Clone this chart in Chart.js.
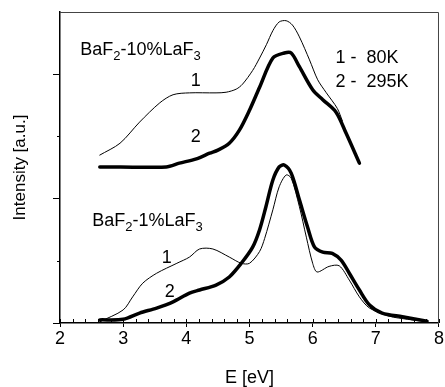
<!DOCTYPE html>
<html><head><meta charset="utf-8">
<script src="https://cdn.jsdelivr.net/npm/chart.js@4"></script>
<style>html,body{margin:0;padding:0;background:#fff}#wrap{width:445px;height:387px;position:relative}</style>
</head><body><div id="wrap"><canvas id="c"></canvas></div>
<script>
// Upper panel: BaF2-10%LaF3
const hiE1 = [2.63, 2.95, 3.26, 3.58, 3.79, 4.05, 4.47, 4.63, 4.79, 4.89, 5.05, 5.16, 5.27, 5.37, 5.47, 5.58, 5.68, 5.79, 5.95, 6.08, 6.21, 6.39, 6.47];
const hiI1 = [2.70, 2.89, 3.23, 3.54, 3.67, 3.70, 3.70, 3.71, 3.76, 3.84, 4.06, 4.26, 4.48, 4.70, 4.84, 4.86, 4.79, 4.60, 4.23, 3.91, 3.71, 3.45, 3.25];
const hiE2 = [2.63, 3.68, 3.89, 4.16, 4.37, 4.50, 4.68, 4.84, 5.00, 5.16, 5.37, 5.55, 5.66, 5.79, 6.00, 6.16, 6.37, 6.53, 6.74];
const hiI2 = [2.51, 2.51, 2.57, 2.64, 2.73, 2.78, 2.89, 3.10, 3.42, 3.79, 4.26, 4.34, 4.34, 4.12, 3.75, 3.59, 3.39, 3.05, 2.57];
// Lower panel: BaF2-1%LaF3
const loE1 = [2.63, 3.00, 3.15, 3.31, 3.53, 3.85, 4.05, 4.21, 4.42, 4.68, 4.87, 5.00, 5.16, 5.24, 5.37, 5.47, 5.58, 5.66, 5.79, 5.90, 6.00, 6.07, 6.26, 6.42, 6.58, 6.74, 6.90, 7.21, 7.50, 7.81];
const loI1 = [0.02, 0.21, 0.42, 0.64, 0.80, 0.96, 1.06, 1.19, 1.19, 1.06, 0.96, 0.96, 1.15, 1.36, 1.82, 2.19, 2.38, 2.33, 1.87, 1.38, 0.96, 0.82, 0.91, 0.92, 0.69, 0.42, 0.24, 0.11, 0.06, 0.02];
const loE2 = [2.63, 3.00, 3.26, 3.53, 3.79, 4.05, 4.21, 4.47, 4.68, 4.87, 5.05, 5.16, 5.26, 5.37, 5.47, 5.55, 5.66, 5.79, 5.92, 6.03, 6.16, 6.31, 6.45, 6.58, 6.74, 6.90, 7.10, 7.42, 7.81];
const loI2 = [0.05, 0.06, 0.16, 0.24, 0.34, 0.48, 0.53, 0.61, 0.74, 0.96, 1.22, 1.50, 1.87, 2.30, 2.51, 2.54, 2.41, 1.98, 1.54, 1.22, 1.14, 1.12, 1.01, 0.80, 0.53, 0.29, 0.16, 0.10, 0.03];

const xTicks = [2, 3, 4, 5, 6, 7, 8];
const xTitle = 'E [eV]';
const yTitle = 'Intensity [a.u.]';

// text annotations: [x, y (data units, baseline), parts]
const notes = [
  [2.32, 4.31, [['BaF', 0], ['2', 1], ['-10%LaF', 0], ['3', 1]]],
  [6.36, 4.18, [['1 -  80K', 0]]],
  [6.36, 3.79, [['2 -  295K', 0]]],
  [4.07, 3.81, [['1', 0]]],
  [4.07, 2.91, [['2', 0]]],
  [2.51, 1.56, [['BaF', 0], ['2', 1], ['-1%LaF', 0], ['3', 1]]],
  [3.61, 0.96, [['1', 0]]],
  [3.66, 0.42, [['2', 0]]]
];

const FONT = '"Liberation Sans", Arial, Helvetica, sans-serif';
const pts = (xs, ys) => xs.map((x, i) => ({x, y: ys[i]}));

const extras = {
  id: 'extras',
  afterDraw(chart) {
    const ctx = chart.ctx, xs = chart.scales.x, ys = chart.scales.y, a = chart.chartArea;
    ctx.save();
    // frame top/right
    ctx.strokeStyle = '#444'; ctx.lineWidth = 1;
    ctx.beginPath();
    ctx.moveTo(a.left, a.top + 0.5); ctx.lineTo(a.right - 0.5, a.top + 0.5); ctx.lineTo(a.right - 0.5, a.bottom);
    ctx.stroke();
    // minor inward x ticks
    ctx.strokeStyle = '#000'; ctx.lineWidth = 1;
    ctx.beginPath();
    for (let k = 0; k <= 30; k++) {
      const v = xs.min + k * 0.2;
      const px = Math.round(xs.getPixelForValue(v)) + 0.5;
      ctx.moveTo(px, a.bottom); ctx.lineTo(px, a.bottom - 4);
    }
    // minor y ticks (outward, short)
    [1, 3].forEach(v => {
      const py = Math.round(ys.getPixelForValue(v)) + 0.5;
      ctx.moveTo(a.left, py); ctx.lineTo(a.left - 3, py);
    });
    ctx.stroke();
    // annotations
    ctx.fillStyle = '#000';
    ctx.textBaseline = 'alphabetic';
    ctx.textAlign = 'left';
    notes.forEach(([x, y, parts]) => {
      let px = xs.getPixelForValue(x);
      const py = ys.getPixelForValue(y);
      parts.forEach(([t, sub]) => {
        ctx.font = (sub ? '13px ' : '18px ') + FONT;
        ctx.fillText(t, px, py + (sub ? 5 : 0));
        px += ctx.measureText(t).width;
      });
    });
    ctx.restore();
  }
};

new Chart(document.getElementById('c'), {
  type: 'line',
  data: {
    datasets: [
      {data: pts(hiE1, hiI1), borderColor: '#000', borderWidth: 1},
      {data: pts(hiE2, hiI2), borderColor: '#000', borderWidth: 3.5},
      {data: pts(loE1, loI1), borderColor: '#000', borderWidth: 1},
      {data: pts(loE2, loI2), borderColor: '#000', borderWidth: 3.5}
    ]
  },
  options: {
    responsive: true,
    maintainAspectRatio: false,
    animation: false,
    devicePixelRatio: 1,
    layout: {padding: {top: 12, right: 5, left: 0, bottom: 0}},
    elements: {
      point: {radius: 0},
      line: {tension: 0.3, borderCapStyle: 'round', borderJoinStyle: 'round'}
    },
    plugins: {legend: {display: false}, tooltip: {enabled: false}},
    scales: {
      x: {
        type: 'linear', min: 2, max: 8,
        afterBuildTicks: s => { s.ticks = xTicks.map(v => ({value: v})); },
        ticks: {color: '#000', font: {family: FONT, size: 18}, padding: 1, maxRotation: 0,
          callback: v => String(v)},
        grid: {drawOnChartArea: false, tickLength: 4, color: '#000', tickColor: '#000'},
        border: {color: '#000', width: 1.5},
        title: {display: true, text: xTitle, color: '#000', font: {family: FONT, size: 18, lineHeight: 1}, padding: {top: 0, bottom: 0}},
        afterFit: s => { s.height = 64; }
      },
      y: {
        min: 0, max: 5,
        ticks: {display: false, stepSize: 1},
        grid: {drawOnChartArea: false, tickLength: 7,
          tickColor: c => (c.tick && (c.tick.value === 0 || c.tick.value === 2 || c.tick.value === 4)) ? '#000' : 'rgba(0,0,0,0)'},
        border: {color: '#000', width: 1.5},
        title: {display: true, text: yTitle, color: '#000', font: {family: FONT, size: 17}, padding: {top: 10, bottom: 0}},
        afterFit: s => { s.width = 60; }
      }
    }
  },
  plugins: [extras]
});
</script>
</body></html>
